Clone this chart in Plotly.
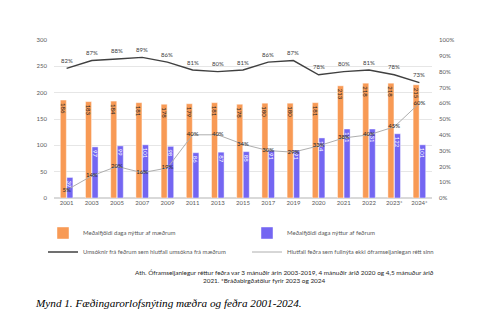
import plotly.graph_objects as go

# Fæðingarorlofsnýting mæðra og feðra 2001-2024
years = ["2001", "2003", "2005", "2007", "2009", "2011", "2013", "2015",
         "2017", "2019", "2020", "2021", "2022", "2023*", "2024*"]
days_mothers = [186, 183, 184, 181, 178, 179, 181, 178, 180, 180, 181, 213, 218, 218, 215]
days_fathers = [39, 97, 99, 101, 98, 86, 87, 88, 91, 91, 114, 131, 131, 122, 101]
applic_ratio = [82, 87, 88, 89, 86, 81, 80, 81, 86, 87, 78, 80, 81, 78, 73]
share_not_full = [5, 14, 20, 16, 19, 40, 40, 34, 30, 29, 33, 38, 40, 45, 60]

left_ticks = [0, 50, 100, 150, 200, 250, 300]
right_ticks = [i / 10 for i in range(11)]

FONT = "Lato"
TICK_COLOR = "#595959"
ORANGE = "#F89A55"
BLUE = "#7466F2"
W, H = 490, 328

fig = go.Figure()

fig.add_trace(go.Bar(
    x=years, y=days_mothers, name="Meðalfjöldi daga nýttur af mæðrum",
    marker=dict(color=ORANGE, line=dict(color="rgba(255,255,255,0.55)", width=0.8)),
    text=[str(v) for v in days_mothers], textposition="inside",
    insidetextanchor="end", textangle=90,
    textfont=dict(family=FONT, size=6, color="#262626"),
    legend="legend",
))
fig.add_trace(go.Bar(
    x=years, y=days_fathers, name="Meðalfjöldi daga nýttur af feðrum",
    marker=dict(color=BLUE, line=dict(color="rgba(255,255,255,0.55)", width=0.8)),
    text=[str(v) for v in days_fathers], textposition="inside",
    insidetextanchor="end", textangle=90,
    textfont=dict(family=FONT, size=6, color="#FFFFFF"),
    legend="legend2",
))
fig.add_trace(go.Scatter(
    x=years, y=[v / 100 for v in applic_ratio], yaxis="y2",
    name="Umsóknir frá feðrum sem hlutfall umsókna frá mæðrum",
    mode="lines", line=dict(color="#404040", width=1.4),
    legend="legend3",
))
fig.add_trace(go.Scatter(
    x=years, y=[v / 100 for v in share_not_full], yaxis="y2",
    name="Hlutfall feðra sem fullnýta ekki óframseljanlegan rétt sinn",
    mode="lines+text", line=dict(color="#AEAEAE", width=1),
    text=[f"{v}%" for v in share_not_full], textposition="middle center",
    textfont=dict(family=FONT, size=6, color="#262626"),
    legend="legend4",
))

# value labels above the black line (category index as x)
for i, v in enumerate(applic_ratio):
    fig.add_annotation(
        x=i, y=v / 100, xref="x", yref="y2", yshift=8,
        text=f"{v}%", showarrow=False,
        font=dict(family=FONT, size=6, color="#404040"),
    )


def legend_box(left_px, center_px, size):
    return dict(
        orientation="h", xref="container", yref="container",
        x=left_px / W, xanchor="left", y=1 - center_px / H, yanchor="middle",
        font=dict(family=FONT, size=size, color=TICK_COLOR),
        bgcolor="rgba(0,0,0,0)", itemwidth=30,
    )


fig.update_layout(
    width=W, height=H,
    margin=dict(l=54, r=58, t=40, b=130),
    paper_bgcolor="white", plot_bgcolor="white",
    font=dict(family=FONT, size=6, color=TICK_COLOR),
    barmode="group", bargap=0.48, bargroupgap=0.08,
    uniformtext=dict(minsize=5, mode="show"),
    xaxis=dict(type="category", range=[-0.5, len(years) - 0.5],
               showgrid=False, showline=False, ticks="",
               tickfont=dict(size=6, color=TICK_COLOR)),
    yaxis=dict(range=[0, 300], tickvals=left_ticks, showgrid=True,
               gridcolor="#E6E6E6", gridwidth=1, zeroline=True,
               zerolinecolor="#D9D9D9", ticks="", ticklabelstandoff=6,
               tickfont=dict(size=6, color=TICK_COLOR)),
    yaxis2=dict(range=[0, 1], tickvals=right_ticks, tickformat=".0%",
                overlaying="y", side="right", showgrid=False, zeroline=False,
                ticks="", ticklabelstandoff=6,
                tickfont=dict(size=6, color=TICK_COLOR)),
    legend=legend_box(43, 233, 6.0),
    legend2=legend_box(247, 233, 6.0),
    legend3=legend_box(43, 252, 5.9),
    legend4=legend_box(247, 252, 5.9),
    showlegend=True,
)

fig.add_annotation(
    xref="paper", yref="paper", x=(133 - 54) / 378, y=-(272 - 198) / 158,
    xanchor="left", yanchor="middle", showarrow=False,
    text="Ath. Óframseljanlegur réttur feðra var 3 mánuðir árin 2003-2019, 4 mánuðir árið 2020 og 4,5 mánuður árið",
    font=dict(family=FONT, size=6.4, color="#262626"),
)
fig.add_annotation(
    xref="paper", yref="paper", x=(264 - 54) / 378, y=-(280 - 198) / 158,
    xanchor="center", yanchor="middle", showarrow=False,
    text="2021. *Bráðabirgðatölur fyrir 2023 og 2024",
    font=dict(family=FONT, size=6.4, color="#262626"),
)
fig.add_annotation(
    xref="paper", yref="paper", x=(33 - 54) / 378, y=-(303 - 198) / 158,
    xanchor="left", yanchor="middle", showarrow=False,
    text="<i>Mynd 1. Fæðingarorlofsnýting mæðra og feðra 2001-2024.</i>",
    font=dict(family="Liberation Serif", size=11.2, color="#000000"),
)

fig.write_html("out.html")
